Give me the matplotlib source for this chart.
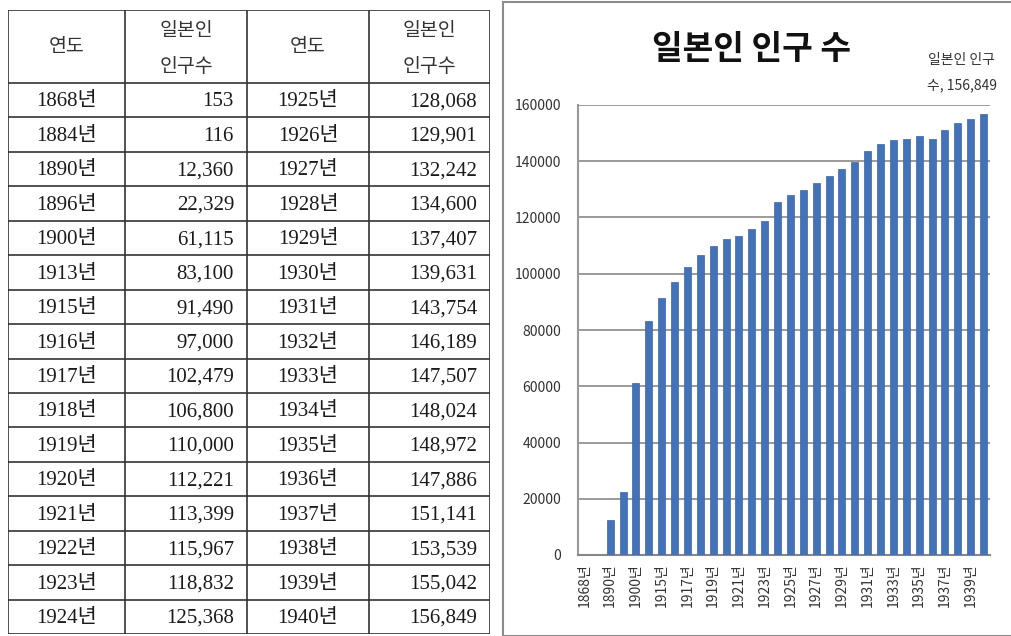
import matplotlib.pyplot as plt
from matplotlib.patches import Rectangle

plt.rcParams['font.family'] = ['Noto Sans CJK KR', 'DejaVu Sans']

years = [1868, 1884, 1890, 1896, 1900, 1913, 1915, 1916, 1917, 1918, 1919, 1920,
         1921, 1922, 1923, 1924, 1925, 1926, 1927, 1928, 1929, 1930, 1931, 1932,
         1933, 1934, 1935, 1936, 1937, 1938, 1939, 1940]
pops = [153, 116, 12360, 22329, 61115, 83100, 91490, 97000, 102479, 106800, 110000, 112221,
        113399, 115967, 118832, 125368, 128068, 129901, 132242, 134600, 137407, 139631, 143754, 146189,
        147507, 148024, 148972, 147886, 151141, 153539, 155042, 156849]
year_labels = [f"{y}년" for y in years]
head_year = "연도"
head_pop = "일본인\n인구수"
title = "일본인 인구 수"
series_name = "일본인 인구"

W, H = 1011, 636
fig = plt.figure(figsize=(W / 100, H / 100), dpi=100)

# ---- table on the left ----
axt = fig.add_axes([8 / W, 2 / H, 482 / W, 624 / H])
col_edges = [0, 117, 239, 361, 482]
head_h = 2.12
n_rows = 16
axt.set_xlim(0, 482)
axt.set_ylim(head_h + n_rows, 0)
axt.axis('off')

line_kw = dict(color='#333333', lw=1.2)
for xe in col_edges:
    axt.plot([xe, xe], [0, head_h + n_rows], **line_kw)
for r in range(n_rows + 1):
    axt.plot([0, 482], [head_h + r, head_h + r], **line_kw)
axt.plot([0, 482], [0, 0], **line_kw)

serif = ['Liberation Serif', 'Noto Sans CJK KR']
for c in (0, 2):
    axt.text((col_edges[c] + col_edges[c + 1]) / 2, head_h / 2, head_year,
             ha='center', va='center', fontsize=14, color='#333333')
    axt.text((col_edges[c + 1] + col_edges[c + 2]) / 2, head_h / 2 + 0.05, head_pop,
             ha='center', va='center', fontsize=14, color='#333333', linespacing=1.95)

for i in range(n_rows):
    yc = head_h + i + 0.55
    for half in (0, 1):
        k = i + half * n_rows
        c = half * 2
        axt.text((col_edges[c] + col_edges[c + 1]) / 2, yc, year_labels[k],
                 ha='center', va='center', fontsize=15, family=serif, color='#1a1a1a')
        axt.text(col_edges[c + 2] - 13, yc, f"{pops[k]:,}",
                 ha='right', va='center', fontsize=15, family=serif, color='#1a1a1a')

# ---- bar chart on the right ----
fig.patches.append(Rectangle((503 / W, 0), 520 / W, 634 / H, transform=fig.transFigure,
                             fill=False, edgecolor='#8c8c8c', lw=1.5))

ax = fig.add_axes([578 / W, 81 / H, 412 / W, 450 / H])
x = list(range(len(years)))
ax.bar(x, pops, width=0.55, color='#4472b8', edgecolor='#3a66a8', lw=0.5, zorder=3)
ax.set_xlim(-0.5, len(years) - 0.5)
ax.set_ylim(0, 160000)
ax.set_yticks(range(0, 160001, 20000))
ax.set_yticklabels([str(v) for v in range(0, 160001, 20000)], fontsize=10, color='#333333')
ax.set_xticks(x[::2])
ax.set_xticklabels(year_labels[::2], rotation=90, fontsize=10, color='#333333')
ax.tick_params(length=0, pad=12)
ax.tick_params(axis='x', pad=6)
ax.grid(axis='y', color='#8a8a8a', lw=1.2, zorder=0)
for s in ('top', 'right'):
    ax.spines[s].set_visible(False)
ax.spines['left'].set_color('#999999')
ax.spines['left'].set_linewidth(1.5)
ax.spines['bottom'].set_color('#888888')
ax.spines['bottom'].set_linewidth(1.5)

ax.annotate(f"{series_name}\n수, {pops[-1]:,}", xy=(x[-1], pops[-1]), xytext=(-22, 22),
            textcoords='offset pixels', ha='center', va='bottom', fontsize=10,
            color='#333333', linespacing=2.0)

fig.text(752 / W, 1 - 50 / H, title, ha='center', va='center', fontsize=24,
         fontweight='bold', color='#111111')

fig.savefig('out.png', dpi=100)
